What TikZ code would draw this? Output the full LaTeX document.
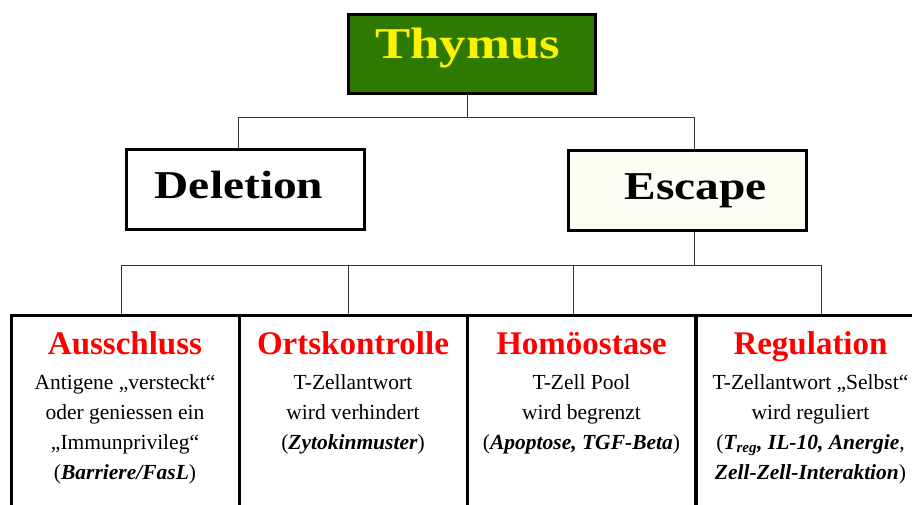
\documentclass[tikz,border=0pt]{standalone}
\usepackage{fontspec}
\setmainfont{Liberation Serif}
\newfontfamily\widefont[FakeStretch=1.2]{Liberation Serif}
\definecolor{thymusgreen}{RGB}{46,122,0}
\definecolor{escapefill}{RGB}{253,253,245}
\begin{document}
\begin{tikzpicture}[x=1pt,y=-1pt,
  topbox/.style={draw=black,line width=3pt,inner sep=0pt,font=\widefont\fontsize{39.5}{44}\selectfont\bfseries},
  catbox/.style={draw=black,line width=3pt,inner sep=0pt,minimum width=228pt,minimum height=210pt,anchor=north},
  head/.style={anchor=base,inner sep=0pt,text=red,font=\fontsize{33}{36}\selectfont\bfseries},
  body/.style={anchor=north,inner sep=0pt,align=center,font=\fontsize{21.5}{30}\selectfont},
  link/.style={draw=black!80,line width=1pt}]

\useasboundingbox (0,0) rectangle (912,504);
\clip (0,0) rectangle (912,504);

% top level
\node[topbox,fill=thymusgreen,text=yellow,minimum width=247pt,text height=44pt,text depth=35pt,font=\widefont\fontsize{44}{48}\selectfont\bfseries]
  (thymus) at (471.5,13) [anchor=north] {Thymus\hspace*{8pt}};

% second level
\node[topbox,fill=white,minimum width=238pt,text height=49pt,text depth=31pt,anchor=north]
  (deletion) at (245,148) {Deletion\hspace*{12pt}};
\node[topbox,fill=escapefill,minimum width=238pt,text height=49pt,text depth=31pt,anchor=north]
  (escape) at (687,149) {\hspace*{17pt}Escape};

% third level
\node[catbox] (aus) at (125,314) {};
\node[catbox] (orts) at (353,314) {};
\node[catbox] (homo) at (581.5,314) {};
\node[catbox] (reg) at (810.5,314) {};

\node[head] (ausHead) at (125,354) {Ausschluss};
\node[head] (ortsHead) at (353,354) {Ortskontrolle};
\node[head] (homoHead) at (581.5,354) {Homöostase};
\node[head] (regHead) at (810.5,354) {Regulation};

\node[body] (ausText) at (125,374) {Antigene „versteckt“\\oder geniessen ein\\„Immunprivileg“\\(\textbf{\textit{Barriere/FasL}})};
\node[body] (ortsText) at (353,374) {T-Zellantwort\\wird verhindert\\(\textbf{\textit{Zytokinmuster}})};
\node[body] (homoText) at (581.5,374) {T-Zell Pool\\wird begrenzt\\(\textbf{\textit{Apoptose, TGF-Beta}})};
\node[body] (regText) at (810.5,374) {T-Zellantwort „Selbst“\\wird reguliert\\(\textbf{\textit{T\textsubscript{reg}, IL-10, Anergie}},\\\textbf{\textit{Zell-Zell-Interaktion}})};

% connectors
\draw[link] (thymus.south -| 467,0) -- (467,117) -| ([xshift=-7pt]deletion.north);
\draw[link] (467,117) -| ([xshift=7pt]escape.north);
\draw[link] ([xshift=7pt]escape.south) -- (694,265) -| ([xshift=-4pt]aus.north);
\draw[link] (694,265) -| ([xshift=10.5pt]reg.north);
\draw[link] (348,265) -- ([xshift=-5pt]orts.north);
\draw[link] (573,265) -- ([xshift=-8.5pt]homo.north);

\end{tikzpicture}
\end{document}
